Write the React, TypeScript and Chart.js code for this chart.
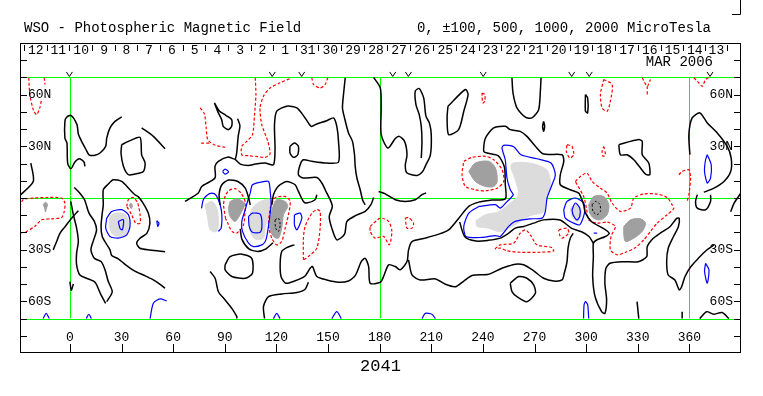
import React, { useEffect, useRef } from "react";
import { Chart, registerables } from "chart.js";

Chart.register(...registerables);

type Pt = [number, number];

// ---------- axes / annotation values ----------
const lonRange = [-29, 390];
const latRange = [-90, 90];
const lonTickValues = [0, 30, 60, 90, 120, 150, 180, 210, 240, 270, 300, 330, 360];
const latTickValues = [80, 70, 60, 50, 40, 30, 20, 10, 0, -10, -20, -30, -40, -50, -60, -70, -80];
const latLabelValues = [60, 30, -30, -60];
const latLabelTexts = ["60N", "30N", "30S", "60S"];
const greenLats = [70, 0, -70];
const greenLons = [0, 180, 360];
const dayLabels = ["12", "11", "10", "9", "8", "7", "6", "5", "4", "3", "2", "1", "31", "30", "29", "28", "27", "26", "25", "24", "23", "22", "21", "20", "19", "18", "17", "16", "15", "14", "13"];
const dayBounds = [-26.7, -13.5, -0.5, 13.0, 26.2, 38.8, 52.4, 65.6, 78.7, 92.1, 105.1, 118.2, 131.4, 144.4, 157.7, 170.9, 184.4, 197.6, 211.2, 224.4, 237.7, 250.5, 263.9, 277.1, 290.6, 303.6, 316.9, 330.1, 343.3, 356.5, 369.1, 381.7];
const sectorMarks = [-0.3, 117.6, 134.7, 187.6, 196.7, 240.2, 291.6, 301.8, 372.0];
const titleText = "WSO - Photospheric Magnetic Field";
const unitsText = "0, \u00b1100, 500, 1000, 2000 MicroTesla";
const monthText = "MAR 2006";
const rotationText = "2041";

// ---------- black (zero) contours: [longitude, latitude] ----------
const blk01: Pt[] = [[-29.7, 0.9], [-21.3, 9.6], [-22.7, 20.3]];
const blk02: Pt[] = [[30.1, 47.1], [26.2, 44.5], [23.3, 40.7], [21.4, 34.8], [20.8, 30.0], [17.5, 26.1], [14.6, 24.8], [11.1, 25.1], [9.1, 28.6], [6.8, 32.9], [4.9, 37.2], [4.1, 42.6], [0.6, 48.0], [-1.9, 46.9], [-2.9, 44.5], [-2.9, 34.8], [-1.7, 31.9], [-1.3, 20.3], [0.6, 17.0], [2.9, 20.9], [5.4, 22.8], [8.2, 20.9], [8.7, 18.4]];
const blk03: Pt[] = [[41.7, 40.7], [48.5, 35.8], [55.3, 28.6]];
const blk04: Pt[] = [[30.1, 31.0], [34.9, 33.3], [40.8, 35.2], [41.7, 25.1], [43.7, 20.3], [42.7, 15.4], [37.8, 13.9], [34.0, 13.5], [31.1, 18.4], [29.7, 26.1], [30.1, 31.0]];
const blk05: Pt[] = [[55.3, -31.2], [46.5, -30.2], [40.7, -29.2], [38.8, -26.3], [40.7, -23.4], [44.7, -20.5], [46.5, -14.7], [45.6, -8.9], [42.6, -3.1], [39.7, 0.8], [37.8, 1.9], [34.9, 4.8], [30.1, 9.6], [25.2, 10.6], [22.3, 8.1], [19.4, 4.8], [19.4, -4.0], [18.8, -8.8], [18.1, -16.5], [18.8, -22.3], [21.4, -27.0], [23.3, -30.1], [24.3, -33.4], [28.1, -35.3], [32.4, -38.8], [37.5, -42.3], [42.7, -44.7], [47.5, -47.0], [52.4, -50.1], [55.3, -52.4]];
const blk06: Pt[] = [[2.5, 6.1], [5.8, 2.8], [8.5, -1.0], [11.1, -8.8], [14.2, -13.6], [15.5, -18.5], [13.8, -24.3], [12.2, -30.1], [14.2, -35.0], [18.1, -36.9], [20.4, -41.7], [22.3, -48.5], [24.6, -54.4], [21.4, -60.2]];
const blk07: Pt[] = [[0.5, -2.0], [2.0, -9.7], [3.9, -17.5], [4.9, -25.3], [3.9, -32.0], [3.9, -38.8], [5.8, -44.7], [9.7, -46.6], [14.6, -48.9], [18.1, -56.3], [20.8, -61.2]];
const blk08: Pt[] = [[4.9, -7.4], [1.0, -11.8], [-2.8, -16.6], [-5.8, -20.5], [-8.0, -26.0], [-9.7, -30.1]];
const blk09: Pt[] = [[0.0, -48.5], [0.8, -53.5], [2.0, -50.0]];
const blk10: Pt[] = [[95.9, 22.6], [99.0, 19.7], [103.8, 18.9], [107.7, 19.7], [113.4, 20.3], [118.3, 19.3], [119.2, 28.1], [118.9, 42.6], [120.2, 50.4], [126.0, 53.3], [131.9, 52.3], [136.7, 46.5], [140.2, 41.6], [143.5, 43.0], [149.3, 44.9], [153.2, 46.5], [155.1, 41.6], [156.1, 32.9], [156.1, 20.9], [149.3, 20.3], [140.6, 21.3], [135.7, 22.2], [133.8, 19.3], [132.8, 13.5], [135.7, 11.6], [143.5, 11.9], [146.4, 8.7], [149.3, 2.8], [151.3, -1.1], [152.5, -5.0], [150.7, -10.7], [152.2, -17.5], [155.1, -24.3], [159.6, -21.0], [161.0, -13.6], [166.2, -10.1], [171.6, -7.8], [175.1, -3.5], [176.5, 0.3]];
const blk11: Pt[] = [[97.5, 46.0], [98.8, 42.0], [97.8, 35.8], [96.9, 26.1], [95.9, 22.6], [92.0, 23.8], [86.3, 21.3], [84.3, 18.4], [84.3, 11.6], [76.6, 6.7], [74.6, 2.9], [66.9, -2.0]];
const blk12: Pt[] = [[87.3, -4.0], [86.7, 1.9], [88.3, 7.7], [92.2, 10.4], [97.6, 9.6], [101.9, 5.7], [103.8, 0.3], [104.8, -4.0]];
const blk13: Pt[] = [[127.9, 30.0], [130.5, 31.9], [132.8, 30.0], [132.4, 25.1], [129.9, 23.6], [127.9, 26.1], [127.9, 30.0]];
const blk14: Pt[] = [[117.3, -4.0], [118.3, 1.9], [120.2, 5.7], [122.2, 7.7], [126.0, 9.6], [130.9, 7.7], [132.8, 3.8], [135.7, -2.0], [137.7, -2.9], [142.5, -1.0], [143.5, 1.9]];
const blk15: Pt[] = [[160.0, 69.8], [159.0, 60.1], [158.4, 52.3], [159.6, 46.5], [161.9, 37.8], [164.2, 32.9], [165.4, 25.1], [165.8, 18.4], [166.8, 11.6], [168.7, 4.8], [170.1, -1.1], [171.6, -4.0]];
const blk16: Pt[] = [[176.5, 70.0], [180.4, 63.9], [180.9, 52.3], [180.9, 36.8], [184.8, 29.0], [189.1, 34.5], [191.4, 35.8], [194.5, 32.9], [195.9, 25.1], [194.9, 18.9], [195.9, 14.5], [201.7, 13.1], [205.0, 15.4], [206.5, 18.4], [209.5, 25.1], [210.0, 36.8], [208.9, 43.6], [206.9, 47.5], [205.6, 58.1], [203.0, 63.6], [200.7, 62.0], [201.1, 54.2], [203.0, 48.4], [204.2, 41.6], [204.6, 32.9], [204.2, 23.2]];
const blk17: Pt[] = [[219.7, 53.3], [229.8, 63.0], [231.4, 60.1], [228.9, 50.4], [225.9, 39.7], [220.1, 36.8], [219.2, 46.5], [219.7, 53.3]];
const blk18: Pt[] = [[179.4, 3.8], [183.0, 2.5], [189.1, -1.0], [194.9, -2.0], [200.7, -1.0], [204.6, 1.9], [207.0, 3.0]];
const blk19: Pt[] = [[130.5, -27.2], [126.0, -28.8], [123.1, -31.1], [122.2, -37.9], [122.7, -45.6], [125.4, -49.5], [130.5, -48.2], [136.3, -45.6], [139.6, -40.8], [141.0, -39.8], [143.5, -45.6], [149.3, -47.6], [156.1, -48.9], [161.9, -48.2], [165.4, -45.6], [166.8, -43.1], [169.3, -36.9], [171.6, -35.0], [173.6, -39.8], [174.5, -49.5], [180.4, -48.9], [182.3, -45.6], [185.2, -38.8], [189.1, -39.8], [192.0, -41.7], [195.9, -36.9], [196.8, -30.1], [198.8, -25.3], [206.5, -23.3], [214.3, -21.0], [220.1, -18.5], [226.0, -11.7], [231.8, -4.9], [237.6, -2.4], [245.0, -1.2], [253.1, -0.4], [253.0, 8.0], [252.5, 18.0], [249.0, 24.5], [243.0, 26.0], [240.5, 27.1], [241.5, 34.8], [246.3, 40.7], [253.1, 41.6], [255.9, 39.7], [261.7, 38.7], [265.6, 35.8], [270.5, 30.0], [275.3, 25.5], [286.0, 25.1], [287.0, 21.3], [285.0, 13.5], [285.0, 7.7], [290.8, 4.8], [295.7, 2.8], [297.6, -1.1], [298.6, -4.0], [299.5, -8.5], [303.2, -13.8], [309.9, -17.6], [313.4, -20.5], [310.9, -22.5], [306.1, -24.4], [304.2, -26.3], [304.2, -34.1], [303.8, -45.7], [305.2, -57.3], [309.0, -66.0], [310.9, -67.0], [311.9, -59.2], [310.9, -49.5], [311.5, -40.8], [313.9, -37.9], [321.6, -37.0], [330.3, -37.0], [335.2, -34.1], [335.5, -28.3], [339.0, -23.4], [342.9, -20.5], [348.7, -16.7], [352.6, -11.8], [354.1, -11.8], [353.6, -16.7], [350.7, -22.5], [347.7, -29.2], [346.8, -37.0], [347.7, -44.7], [351.6, -47.6], [354.1, -53.4], [355.5, -51.5], [357.4, -45.7], [360.8, -39.9], [365.2, -35.0], [370.1, -30.2], [374.3, -27.2]];
const blk20: Pt[] = [[196.8, -35.9], [198.8, -44.7], [203.6, -47.6], [212.4, -47.0], [218.2, -50.1], [224.0, -51.5], [228.9, -48.2], [233.7, -45.0], [243.4, -44.3], [250.1, -41.2], [254.0, -39.8], [258.8, -38.4], [263.7, -38.8], [269.5, -42.3], [275.3, -46.6], [281.1, -48.2], [286.0, -47.6], [287.3, -43.7], [288.9, -36.9], [289.5, -29.1], [290.8, -23.3], [292.5, -20.5]];
const blk21: Pt[] = [[255.9, -49.5], [260.8, -45.6], [265.6, -46.6], [269.5, -50.5], [270.5, -55.3], [265.6, -60.2], [259.8, -57.3], [256.9, -54.4], [255.9, -49.5]];
const blk22: Pt[] = [[256.9, 69.8], [257.5, 61.0], [259.8, 52.3], [264.7, 46.9], [268.5, 46.5], [272.4, 51.3], [273.4, 62.0], [273.8, 69.8]];
const blk23: Pt[] = [[299.6, 60.1], [300.9, 58.1], [300.9, 49.4], [299.6, 50.4], [299.6, 60.1]];
const blk24: Pt[] = [[275.3, 44.5], [275.9, 41.6], [275.3, 38.7], [274.7, 41.6], [275.3, 44.5]];
const blk25: Pt[] = [[319.0, 31.0], [330.6, 33.9], [332.6, 32.9], [332.6, 25.1], [336.4, 20.3], [337.0, 13.5], [334.5, 13.9], [331.6, 17.4], [327.7, 22.2], [323.8, 25.1], [319.9, 25.1], [319.0, 31.0]];
const blk26: Pt[] = [[360.3, 25.1], [359.7, 36.8], [361.6, 46.5], [366.1, 49.4], [370.4, 43.6], [376.2, 37.8], [382.0, 30.0], [384.3, 23.2], [384.0, 15.4], [380.1, 9.6], [374.3, 5.7], [368.4, 3.4]];
const blk27: Pt[] = [[364.6, 1.9], [363.6, -2.0], [364.6, -5.9], [369.4, -6.8], [372.3, -2.0], [372.3, 1.9]];
const blk28: Pt[] = [[384.0, -8.0], [386.0, -3.0], [390.0, 3.0]];
const blk29: Pt[] = [[329.6, -60.2], [330.6, -70.0]];
const blk30: Pt[] = [[355.8, -66.0], [355.8, -70.0]];
const blk31: Pt[] = [[366.0, -70.0], [370.0, -66.0], [374.0, -67.5], [379.0, -66.5], [383.0, -70.0]];
const blk32: Pt[] = [[90.2, -38.8], [93.1, -34.0], [99.9, -32.6], [105.7, -35.0], [106.1, -43.7], [101.9, -46.6], [94.1, -45.6], [90.2, -41.7], [90.2, -38.8]];
const blk33: Pt[] = [[81.5, -42.7], [84.4, -46.6], [86.3, -54.4], [90.2, -59.2], [94.1, -64.1], [97.0, -68.9], [97.0, -70.0]];
const blk34: Pt[] = [[113.1, -70.0], [112.5, -63.0], [115.4, -57.3], [123.1, -55.7], [131.9, -54.9], [136.7, -53.0], [138.6, -48.9]];
const blk35: Pt[] = [[99.0, -18.0], [100.0, -24.0], [104.0, -29.5], [109.0, -31.0], [114.0, -29.5], [118.0, -26.0]];
const blk36: Pt[] = [[304.2, -26.3], [301.8, -22.5], [297.4, -19.6], [291.6, -17.6], [284.8, -12.8], [275.3, -12.7], [269.5, -14.6], [263.7, -16.5], [258.8, -17.5], [255.0, -20.4], [250.1, -23.3], [243.0, -24.6], [236.0, -25.0], [229.5, -22.5], [226.5, -14.0]];
const blk37: Pt[] = [[84.0, 55.2], [86.7, 50.7], [90.6, 48.0], [94.0, 45.5], [94.0, 41.6], [92.0, 39.7], [89.1, 41.6], [88.2, 45.5], [86.0, 50.0], [84.0, 55.2]];

// ---------- red dashed (negative) contours ----------
const red01: Pt[] = [[-23.9, 69.8], [-23.3, 60.1], [-21.3, 51.3], [-19.4, 48.4], [-17.5, 52.3], [-16.5, 57.2]];
const red02: Pt[] = [[-14.9, 69.8], [-14.5, 65.9]];
const red03: Pt[] = [[-29.1, -4.9], [-27.2, -1.0], [-20.4, 0.0], [-12.6, 0.3], [-4.8, 0.0], [-2.9, -3.0], [-3.3, -7.8], [-4.8, -11.3], [-10.7, -12.1], [-16.5, -12.7], [-20.4, -16.5], [-25.2, -19.4], [-29.1, -20.4]];
const red04: Pt[] = [[33.0, -4.9], [34.0, -1.0], [36.9, 0.3], [39.4, -3.0], [40.8, -9.7], [40.8, -14.6], [38.2, -14.6], [35.9, -9.7], [33.0, -4.9]];
const red05: Pt[] = [[75.7, 52.3], [78.2, 48.8], [79.2, 40.7], [80.1, 33.9], [84.4, 30.6], [90.6, 29.4]];
const red06: Pt[] = [[76.3, 31.9], [81.5, 31.9]];
const red07: Pt[] = [[107.7, 69.8], [108.1, 60.1], [107.3, 48.4], [106.1, 36.8], [102.8, 32.9], [99.9, 30.0], [99.9, 25.1], [104.0, 24.5], [109.2, 24.0], [113.4, 23.6], [116.3, 25.5], [115.0, 32.9], [111.5, 42.6], [110.5, 52.3], [112.5, 59.1], [116.3, 63.9], [122.2, 66.9], [128.0, 69.4]];
const red08: Pt[] = [[140.6, 69.8], [141.6, 65.9], [145.4, 63.9], [148.3, 65.9], [149.9, 69.8]];
const red09: Pt[] = [[90.5, -12.0], [89.3, -4.0], [90.2, 1.0], [92.2, 4.2], [96.0, 5.4], [99.5, 2.8], [102.2, -3.0], [101.9, -5.9], [100.9, -15.6], [97.0, -20.4], [94.1, -19.4], [91.5, -14.0], [90.5, -12.0]];
const red10: Pt[] = [[116.3, -5.9], [119.2, 0.0], [125.1, 0.9], [128.0, -2.0], [127.0, -9.7], [125.1, -17.5], [123.1, -25.3], [120.2, -27.2], [117.3, -23.3], [115.4, -15.6], [116.3, -5.9]];
const red11: Pt[] = [[135.7, -35.9], [135.7, -23.3], [136.7, -16.5], [140.6, -8.8], [143.5, -6.8], [145.4, -7.8], [145.4, -17.5], [143.5, -29.1], [138.6, -34.0], [135.7, -35.9]];
const red12: Pt[] = [[174.5, -16.5], [180.4, -11.7], [185.2, -13.6], [187.1, -19.4], [185.6, -27.2], [182.3, -22.3], [177.4, -23.3], [174.5, -19.4], [174.5, -16.5]];
const red13: Pt[] = [[194.9, -11.7], [196.8, -11.3], [199.7, -14.6], [198.8, -17.5], [195.9, -17.5], [194.9, -11.7]];
const red14: Pt[] = [[228.9, 21.3], [233.7, 23.6], [241.5, 24.2], [246.3, 22.2], [251.2, 16.4], [252.1, 9.6], [248.3, 5.7], [241.5, 4.2], [235.6, 4.8], [229.8, 6.7], [227.9, 13.5], [228.9, 21.3]];
const red15: Pt[] = [[239.5, 61.0], [241.1, 60.1], [241.1, 56.2], [239.9, 55.2], [239.5, 61.0]];
const red16: Pt[] = [[310.2, 68.8], [315.1, 65.9], [314.1, 56.2], [312.2, 50.4], [309.3, 52.3], [308.3, 60.1], [310.2, 68.8]];
const red17: Pt[] = [[332.6, 69.8], [335.5, 64.9], [337.4, 68.8]];
const red18: Pt[] = [[335.5, 64.9], [335.5, 59.1]];
const red19: Pt[] = [[362.6, 69.8], [364.6, 67.8], [367.5, 64.9], [369.4, 68.8], [371.4, 70.0]];
const red20: Pt[] = [[288.9, 31.0], [291.8, 30.0], [292.8, 25.1], [290.5, 23.2], [288.5, 27.1], [288.9, 31.0]];
const red21: Pt[] = [[310.2, 30.0], [311.2, 25.1], [309.8, 24.2], [309.3, 27.1], [310.2, 30.0]];
const red22: Pt[] = [[353.9, 13.5], [355.8, 15.4], [359.7, 16.4], [360.7, 11.6], [359.7, 1.9], [358.7, -2.0]];
const red23: Pt[] = [[293.7, 9.6], [296.7, 12.5], [300.5, 14.5], [303.5, 9.6], [308.3, 5.7], [312.2, 2.8], [315.1, -3.0], [319.9, -7.8], [325.8, -5.9], [327.7, -0.1], [333.5, 2.3], [341.3, 2.3], [347.1, 0.3], [350.0, -4.0], [351.0, -6.0], [347.1, -9.7], [341.3, -14.6], [337.4, -19.4], [333.5, -24.3], [328.7, -28.8], [322.9, -31.5], [318.0, -33.0], [314.1, -30.1], [314.5, -22.3], [317.0, -16.5], [312.2, -14.0], [306.4, -14.6], [301.5, -12.7], [300.2, -5.9], [298.5, 1.0], [293.7, 9.6]];
const red24: Pt[] = [[284.1, -18.5], [288.9, -17.5], [289.9, -20.4], [286.0, -23.3], [284.6, -21.4], [284.1, -18.5]];
const red25: Pt[] = [[247.0, -29.5], [250.1, -27.2], [257.9, -26.2], [261.7, -20.4], [264.7, -18.5], [267.6, -21.4], [271.4, -27.2], [280.2, -28.8], [281.1, -30.7], [273.4, -31.5], [261.7, -31.5], [254.0, -30.7], [250.1, -29.1], [247.0, -29.5]];

// ---------- blue (positive) contours ----------
const blu01: Pt[] = [[88.7, 15.4], [90.2, 16.8], [92.2, 15.1], [90.2, 13.9], [88.7, 15.4]];
const blu02: Pt[] = [[76.5, -6.0], [77.5, -1.0], [79.5, 1.5], [82.5, 2.8], [85.0, 1.5], [87.3, -3.9], [88.3, -9.7], [87.9, -17.5], [86.3, -19.4]];
const blu03: Pt[] = [[104.8, 2.8], [106.1, 7.7], [111.0, 9.2], [115.4, 9.6], [116.5, 3.0], [116.9, -4.0], [116.0, -12.0], [114.5, -22.0], [113.5, -25.3], [111.6, -27.2], [106.7, -28.2], [103.8, -26.2], [100.3, -19.4], [99.9, -13.6], [101.9, -6.8], [103.5, -1.0], [104.8, 2.8]];
const blu04: Pt[] = [[103.8, -10.7], [106.1, -8.8], [110.6, -9.4], [111.6, -15.6], [110.6, -19.9], [106.1, -19.9], [104.2, -16.5], [103.8, -10.7]];
const blu05: Pt[] = [[130.5, -9.7], [133.8, -8.8], [134.8, -11.7], [131.9, -18.5], [130.5, -15.6], [130.5, -9.7]];
const blu06: Pt[] = [[21.4, -11.7], [24.3, -7.8], [30.1, -6.8], [34.0, -9.7], [34.9, -16.5], [33.0, -21.4], [28.1, -23.3], [23.3, -22.3], [20.8, -17.5], [21.4, -11.7]];
const blu07: Pt[] = [[28.1, -13.6], [31.1, -12.6], [30.5, -18.5], [29.1, -17.5], [28.1, -13.6]];
const blu08: Pt[] = [[50.5, -13.2], [51.8, -14.6], [51.0, -16.5], [50.5, -13.2]];
const blu09: Pt[] = [[46.6, -70.0], [48.5, -61.1], [52.4, -58.6], [56.3, -59.8]];
const blu10: Pt[] = [[237.6, -4.9], [247.3, -3.9], [250.1, -5.9], [254.1, -2.0], [257.6, 1.9], [255.9, 4.8], [254.0, 11.6], [253.0, 22.2], [251.1, 29.0], [252.0, 30.6], [257.9, 29.8], [262.1, 25.1], [271.4, 22.8], [279.6, 20.3], [282.1, 13.5], [280.2, 7.7], [277.3, 0.0], [276.3, -7.8], [274.4, -11.7], [267.6, -12.1], [258.8, -13.6], [255.0, -16.5], [250.1, -22.3], [247.3, -21.8], [239.5, -22.9], [230.2, -22.3], [228.9, -16.5], [231.8, -8.8], [237.6, -4.9]];
const blu11: Pt[] = [[287.0, -6.8], [288.9, -2.0], [293.7, 0.0], [298.6, -3.0], [299.0, -8.8], [296.3, -15.6], [292.8, -14.6], [287.9, -11.7], [287.0, -6.8]];
const blu12: Pt[] = [[291.8, -6.8], [293.7, -2.9], [296.3, -5.9], [296.3, -10.7], [294.7, -12.7], [292.4, -9.7], [291.8, -6.8]];
const blu13: Pt[] = [[370.4, 25.1], [372.7, 19.3], [372.3, 11.6], [370.4, 8.7], [368.8, 15.4], [369.4, 22.2], [370.4, 25.1]];
const blu14: Pt[] = [[369.4, -37.9], [371.4, -41.7], [370.4, -49.5], [368.8, -42.7], [369.4, -37.9]];
const blu15: Pt[] = [[304.4, -20.4], [306.4, -20.4]];
const blu16: Pt[] = [[-15.5, -70.0], [-13.8, -67.0], [-12.0, -70.0]];
const blu17: Pt[] = [[9.5, -70.0], [11.0, -67.5], [12.5, -70.0]];
const blu18: Pt[] = [[118.3, -70.0], [120.2, -67.0], [122.1, -70.0]];
const blu19: Pt[] = [[152.2, -70.0], [155.1, -66.0], [157.7, -70.0]];
const blu20: Pt[] = [[204.6, -70.0], [206.5, -67.0], [210.4, -67.5], [212.4, -70.0]];
const blu21: Pt[] = [[298.5, -70.0], [298.8, -62.0], [299.6, -60.2], [300.9, -62.0], [301.5, -70.0]];

// ---------- black dashed (inner) contours ----------
const bkd01: Pt[] = [[119.2, -12.7], [121.2, -11.7], [122.2, -15.6], [121.2, -19.4], [119.6, -17.5], [119.2, -12.7]];
const bkd02: Pt[] = [[303.5, -3.9], [305.4, -2.0], [307.9, -3.5], [308.3, -7.8], [306.4, -9.7], [304.0, -7.8], [303.5, -3.9]];

// ---------- shaded patches ----------
const dark01: Pt[] = [[-15.5, -3.9], [-14.2, -2.4], [-13.0, -3.9], [-13.6, -5.9], [-14.2, -8.2], [-14.7, -5.9]];
const dark02: Pt[] = [[34.5, -3.9], [35.5, -3.0], [36.3, -4.3], [35.7, -6.2]];
const dark03: Pt[] = [[93.1, -2.0], [97.0, -0.4], [101.5, -3.0], [99.9, -7.8], [96.0, -13.6], [93.1, -10.7], [92.2, -5.9]];
const dark04: Pt[] = [[118.3, -3.9], [120.2, -1.0], [125.1, -2.0], [126.6, -4.9], [124.1, -9.7], [123.1, -17.5], [121.2, -23.3], [118.3, -22.4], [116.3, -17.5], [116.9, -9.7]];
const dark05: Pt[] = [[231.8, 15.4], [235.6, 20.3], [243.4, 21.3], [247.3, 17.4], [248.3, 9.6], [246.3, 6.7], [241.5, 6.7], [235.6, 9.6]];
const dark06: Pt[] = [[301.5, -3.9], [304.4, 0.9], [310.2, 0.9], [313.2, -3.9], [312.2, -9.7], [308.3, -12.7], [304.4, -11.7], [302.1, -8.8]];
const dark07: Pt[] = [[321.9, -16.5], [325.8, -12.7], [331.6, -12.1], [334.5, -14.6], [332.6, -19.4], [327.7, -23.3], [322.9, -25.3], [321.9, -21.4]];
const light01: Pt[] = [[23.3, -10.7], [26.2, -8.8], [32.0, -9.4], [34.0, -13.6], [33.6, -19.4], [30.1, -22.3], [25.2, -21.4], [22.9, -16.5]];
const light02: Pt[] = [[78.6, -3.9], [82.5, -2.0], [85.4, -5.9], [86.3, -13.6], [85.4, -19.4], [81.5, -18.5], [80.1, -11.7]];
const light03: Pt[] = [[104.5, -10.0], [106.0, -6.0], [109.0, -3.0], [113.4, -1.0], [116.5, -1.0], [116.0, -7.8], [113.4, -17.5], [112.5, -23.3], [108.0, -24.0], [105.0, -20.0]];
const light04: Pt[] = [[236.0, -13.0], [241.5, -9.7], [249.0, -8.0], [254.7, -3.9], [260.6, 1.9], [258.8, 10.6], [256.5, 19.5], [266.0, 20.5], [277.0, 16.5], [279.3, 7.7], [276.4, -1.0], [275.3, -8.0], [267.5, -10.3], [258.8, -15.5], [250.1, -19.6], [243.4, -17.5], [236.6, -16.5]];
const light05: Pt[] = [[290.8, -5.9], [293.7, -3.9], [296.7, -5.9], [297.1, -10.7], [294.7, -13.6], [291.8, -10.7]];

const blackContours = [blk01, blk02, blk03, blk04, blk05, blk06, blk07, blk08, blk09, blk10, blk11, blk12, blk13, blk14, blk15, blk16, blk17, blk18, blk19, blk20, blk21, blk22, blk23, blk24, blk25, blk26, blk27, blk28, blk29, blk30, blk31, blk32, blk33, blk34, blk35, blk36, blk37];
const redContours = [red01, red02, red03, red04, red05, red06, red07, red08, red09, red10, red11, red12, red13, red14, red15, red16, red17, red18, red19, red20, red21, red22, red23, red24, red25];
const blueContours = [blu01, blu02, blu03, blu04, blu05, blu06, blu07, blu08, blu09, blu10, blu11, blu12, blu13, blu14, blu15, blu16, blu17, blu18, blu19, blu20, blu21];
const blackDashedContours = [bkd01, bkd02];
const darkPatches = [dark01, dark02, dark03, dark04, dark05, dark06, dark07];
const lightPatches = [light01, light02, light03, light04, light05];

const toXY = (pts: Pt[]) => pts.map(([x, y]) => ({ x, y }));

function lineSet(pts: Pt[], color: string, width: number, dash: number[], order: number) {
  return {
    type: "line",
    data: toXY(pts),
    borderColor: color,
    borderWidth: width,
    borderDash: dash,
    pointRadius: 0,
    pointHoverRadius: 0,
    tension: 0.25,
    fill: false,
    order,
  };
}

function patchSet(pts: Pt[], color: string, order: number) {
  const closed = [...pts, pts[0]];
  return {
    type: "line",
    data: toXY(closed),
    borderColor: color,
    borderWidth: 1,
    backgroundColor: color,
    pointRadius: 0,
    pointHoverRadius: 0,
    tension: 0.3,
    fill: "shape",
    order,
  };
}

const decor = {
  id: "wsoDecor",
  beforeDatasetsDraw(chart: any) {
    const { ctx, chartArea: a, scales } = chart;
    const xs = scales.x;
    const ys = scales.y;
    ctx.save();
    ctx.strokeStyle = "#00ff00";
    ctx.lineWidth = 1;
    ctx.beginPath();
    greenLats.forEach((v) => {
      const py = Math.round(ys.getPixelForValue(v)) + 0.5;
      ctx.moveTo(a.left, py);
      ctx.lineTo(a.right, py);
    });
    greenLons.forEach((v) => {
      const px = Math.round(xs.getPixelForValue(v)) + 0.5;
      ctx.moveTo(px, ys.getPixelForValue(70));
      ctx.lineTo(px, ys.getPixelForValue(-70));
    });
    ctx.stroke();
    ctx.restore();
  },
  afterDraw(chart: any) {
    const { ctx, chartArea: a, scales } = chart;
    const xs = scales.x;
    const ys = scales.y;
    ctx.save();
    ctx.strokeStyle = "#000";
    ctx.fillStyle = "#000";
    ctx.lineWidth = 1;
    ctx.strokeRect(a.left + 0.5, a.top + 0.5, a.right - a.left - 1, a.bottom - a.top - 1);
    ctx.beginPath();
    latTickValues.forEach((v) => {
      const py = Math.round(ys.getPixelForValue(v)) + 0.5;
      ctx.moveTo(a.left, py);
      ctx.lineTo(a.left + 7, py);
      ctx.moveTo(a.right - 7, py);
      ctx.lineTo(a.right, py);
    });
    lonTickValues.forEach((v) => {
      const px = Math.round(xs.getPixelForValue(v)) + 0.5;
      ctx.moveTo(px, a.bottom);
      ctx.lineTo(px, a.bottom - 9);
    });
    dayBounds.forEach((v) => {
      const px = Math.round(xs.getPixelForValue(v)) + 0.5;
      ctx.moveTo(px, a.top + 2);
      ctx.lineTo(px, a.top + 8);
    });
    const gy = ys.getPixelForValue(70);
    sectorMarks.forEach((v) => {
      const px = xs.getPixelForValue(v);
      ctx.moveTo(px - 3, gy - 5.5);
      ctx.lineTo(px, gy - 1);
      ctx.lineTo(px + 3, gy - 5.5);
    });
    ctx.moveTo(a.right - 0.5, 0);
    ctx.lineTo(a.right - 0.5, 14.5);
    ctx.lineTo(a.right - 9, 14.5);
    ctx.stroke();

    ctx.textBaseline = "middle";
    ctx.font = '13px "Liberation Mono", "DejaVu Sans Mono", monospace';
    latLabelValues.forEach((v, i) => {
      const py = ys.getPixelForValue(v);
      ctx.textAlign = "left";
      ctx.fillText(latLabelTexts[i], a.left + 8, py);
      ctx.textAlign = "right";
      ctx.fillText(latLabelTexts[i], a.right - 8, py);
    });
    ctx.textAlign = "center";
    lonTickValues.forEach((v) => {
      ctx.fillText(String(v), xs.getPixelForValue(v), a.bottom - 15);
    });
    for (let i = 0; i < dayLabels.length; i++) {
      const cx = (xs.getPixelForValue(dayBounds[i]) + xs.getPixelForValue(dayBounds[i + 1])) / 2;
      ctx.fillText(dayLabels[i], cx + 0.5, a.top + 7.5);
    }
    ctx.font = '14px "Liberation Mono", "DejaVu Sans Mono", monospace';
    ctx.textAlign = "right";
    ctx.fillText(monthText, a.right - 28, a.top + 19);
    ctx.textAlign = "left";
    ctx.fillText(titleText, a.left + 4, a.top - 15);
    ctx.textAlign = "right";
    ctx.fillText(unitsText, a.right - 30, a.top - 15);
    ctx.font = '17px "Liberation Mono", "DejaVu Sans Mono", monospace';
    ctx.textAlign = "center";
    ctx.fillText(rotationText, (a.left + a.right) / 2, a.bottom + 13);
    ctx.restore();
  },
};

export default function App() {
  const ref = useRef<HTMLCanvasElement>(null);
  useEffect(() => {
    const canvas = ref.current;
    if (!canvas) return;
    const datasets: any[] = [];
    blackContours.forEach((p) => datasets.push(lineSet(p, "#000000", 1.5, [], 0)));
    blackDashedContours.forEach((p) => datasets.push(lineSet(p, "#000000", 1, [2, 2], 0)));
    blueContours.forEach((p) => datasets.push(lineSet(p, "#0000ff", 1.2, [], 1)));
    redContours.forEach((p) => datasets.push(lineSet(p, "#ff0000", 1.2, [3, 2], 2)));
    darkPatches.forEach((p) => datasets.push(patchSet(p, "#a0a0a0", 10)));
    lightPatches.forEach((p) => datasets.push(patchSet(p, "#dcdcdc", 11)));
    const chart = new Chart(canvas, {
      type: "line",
      data: { datasets },
      options: {
        animation: false,
        responsive: false,
        devicePixelRatio: 1,
        events: [],
        layout: { padding: { left: 20, top: 43, right: 22, bottom: 43 } },
        plugins: { legend: { display: false }, tooltip: { enabled: false } },
        scales: {
          x: { type: "linear", min: lonRange[0], max: lonRange[1], display: false },
          y: { type: "linear", min: latRange[0], max: latRange[1], display: false },
        },
      },
      plugins: [decor],
    } as any);
    return () => chart.destroy();
  }, []);
  return (
    <div style={{ position: "absolute", left: 0, top: 0, width: 763, height: 396, background: "#fff" }}>
      <canvas ref={ref} width={763} height={396} style={{ display: "block" }} />
    </div>
  );
}
